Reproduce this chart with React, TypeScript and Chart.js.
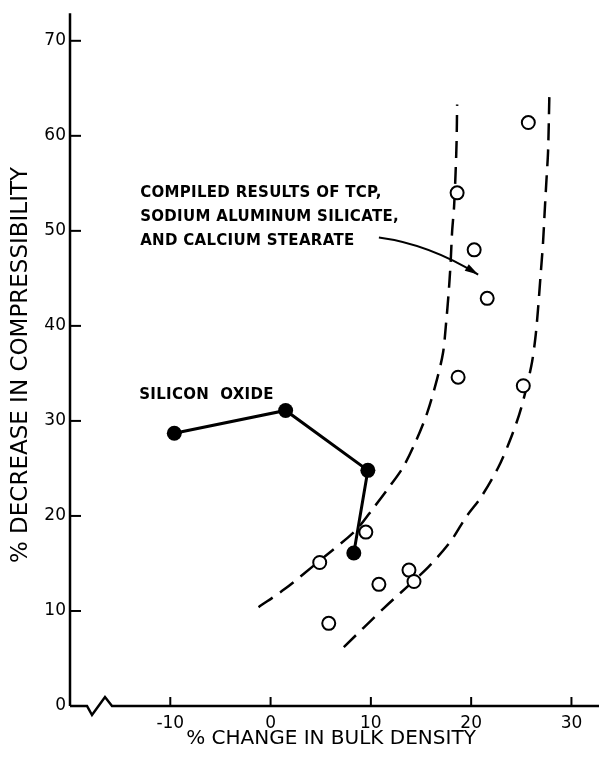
import React, { useEffect, useRef } from "react";
import { Chart, registerables } from "chart.js";

Chart.register(...registerables);

// Silicon oxide (filled, connected)
const siliconX = [-9.6, 1.5, 9.7, 8.3];
const siliconY = [28.7, 31.1, 24.8, 16.1];

// Compiled results of TCP, sodium aluminum silicate, calcium stearate (open circles)
const compiledX = [9.5, 4.9, 10.8, 13.8, 14.3, 5.8, 25.7, 18.6, 20.3, 21.6, 18.7, 25.2];
const compiledY = [18.3, 15.1, 12.8, 14.3, 13.1, 8.7, 61.4, 54.0, 48.0, 42.9, 34.6, 33.7];

// Dashed envelope curves
const leftCurveX = [-1.2, 1.4, 4.9, 8.5, 10.3, 11.8, 13.2, 14.5, 15.6, 16.6, 17.2, 17.5, 17.75, 17.95, 18.1, 18.3, 18.45, 18.55, 18.6];
const leftCurveY = [10.4, 12.3, 15.3, 18.5, 20.9, 23.0, 25.1, 27.9, 30.8, 34.4, 37.2, 40.3, 43.4, 46.6, 49.9, 52.6, 56.2, 59.5, 63.3];
const rightCurveX = [7.3, 11.3, 15.7, 18.0, 19.5, 21.0, 22.7, 24.0, 25.0, 26.0, 26.4, 26.67, 26.9, 27.17, 27.33, 27.5, 27.67, 27.8];
const rightCurveY = [6.2, 10.3, 14.6, 17.4, 19.9, 22.0, 25.1, 28.3, 31.4, 35.8, 38.7, 41.8, 45.0, 48.8, 52.0, 55.2, 58.4, 64.3];

const xTicks = [-10, 0, 10, 20, 30];
const yTicks = [0, 10, 20, 30, 40, 50, 60, 70];

const xTitle = "% CHANGE IN BULK DENSITY";
const yTitle = "% DECREASE IN COMPRESSIBILITY";
const noteLines = ["COMPILED RESULTS OF TCP,", "SODIUM ALUMINUM SILICATE,", "AND CALCIUM STEARATE"];
const siliconLabel = "SILICON  OXIDE";

const pts = (xs: number[], ys: number[]) => xs.map((x, i) => ({ x, y: ys[i] }));

const FONT = "'DejaVu Sans', 'Liberation Sans', sans-serif";

const decorPlugin = {
  id: "decor",
  afterDraw(chart: any) {
    const { ctx, chartArea, scales } = chart;
    const xs = scales.x;
    const ys = scales.y;
    const left = chartArea.left;
    const bottom = chartArea.bottom;
    ctx.save();
    ctx.strokeStyle = "#000";
    ctx.fillStyle = "#000";
    ctx.lineWidth = 2.5;
    ctx.lineCap = "butt";
    // y axis
    ctx.beginPath();
    ctx.moveTo(left, bottom);
    ctx.lineTo(left, chartArea.top - 1);
    ctx.stroke();
    // x axis with break
    ctx.beginPath();
    ctx.moveTo(left, bottom);
    ctx.lineTo(left + 17, bottom);
    ctx.lineTo(left + 22, bottom + 9);
    ctx.lineTo(left + 35, bottom - 9);
    ctx.lineTo(left + 42, bottom);
    ctx.lineTo(chart.width, bottom);
    ctx.stroke();
    // inward ticks
    ctx.lineWidth = 2;
    yTicks.forEach((v) => {
      if (v === 0) return;
      const py = ys.getPixelForValue(v);
      ctx.beginPath();
      ctx.moveTo(left, py);
      ctx.lineTo(left + 11, py);
      ctx.stroke();
    });
    xTicks.forEach((v) => {
      const px = xs.getPixelForValue(v);
      ctx.beginPath();
      ctx.moveTo(px, bottom);
      ctx.lineTo(px, bottom - 9);
      ctx.stroke();
    });
    // axis titles
    ctx.font = `20px ${FONT}`;
    ctx.textAlign = "center";
    ctx.textBaseline = "middle";
    ctx.fillText(xTitle, 331, 739);
    ctx.save();
    ctx.translate(21, 365);
    ctx.rotate(-Math.PI / 2);
    ctx.font = `23px ${FONT}`;
    ctx.fillText(yTitle, 0, 0);
    ctx.restore();
    // annotations
    ctx.font = `bold 15px ${FONT}`;
    ctx.textAlign = "left";
    try { (ctx as any).letterSpacing = "0.3px"; } catch (e) {}
    const nx = xs.getPixelForValue(-13);
    const ny = ys.getPixelForValue(54.0);
    noteLines.forEach((t, i) => ctx.fillText(t, nx, ny + i * 24));
    ctx.fillText(siliconLabel, xs.getPixelForValue(-13.1), ys.getPixelForValue(32.7));
    try { (ctx as any).letterSpacing = "0px"; } catch (e) {}
    // arrow
    const ax0 = xs.getPixelForValue(10.8), ay0 = ys.getPixelForValue(49.3);
    const acx = xs.getPixelForValue(15.8), acy = ys.getPixelForValue(48.6);
    const ax1 = xs.getPixelForValue(20.7), ay1 = ys.getPixelForValue(45.4);
    ctx.lineWidth = 2;
    ctx.beginPath();
    ctx.moveTo(ax0, ay0);
    ctx.quadraticCurveTo(acx, acy, ax1, ay1);
    ctx.stroke();
    const ang = Math.atan2(ay1 - acy, ax1 - acx);
    ctx.beginPath();
    ctx.moveTo(ax1, ay1);
    ctx.lineTo(ax1 - 14 * Math.cos(ang - 0.28), ay1 - 14 * Math.sin(ang - 0.28));
    ctx.lineTo(ax1 - 14 * Math.cos(ang + 0.28), ay1 - 14 * Math.sin(ang + 0.28));
    ctx.closePath();
    ctx.fill();
    ctx.restore();
  },
};

export default function App() {
  const ref = useRef<HTMLCanvasElement | null>(null);
  useEffect(() => {
    if (!ref.current) return;
    const chart = new Chart(ref.current, {
      type: "scatter",
      data: {
        datasets: [
          {
            label: "Compiled",
            data: pts(compiledX, compiledY),
            showLine: false,
            pointRadius: 6.5,
            pointBorderWidth: 2,
            pointBackgroundColor: "#fff",
            pointBorderColor: "#000",
          },
          {
            label: "Silicon oxide",
            data: pts(siliconX, siliconY),
            showLine: true,
            borderColor: "#000",
            borderWidth: 3,
            pointRadius: 7.5,
            pointBackgroundColor: "#000",
            pointBorderColor: "#000",
            pointBorderWidth: 0,
          },
          {
            label: "Left curve",
            data: pts(leftCurveX, leftCurveY),
            showLine: true,
            borderColor: "#000",
            borderWidth: 2.5,
            borderDash: [17, 9],
            pointRadius: 0,
            tension: 0.3,
          },
          {
            label: "Right curve",
            data: pts(rightCurveX, rightCurveY),
            showLine: true,
            borderColor: "#000",
            borderWidth: 2.5,
            borderDash: [17, 9],
            pointRadius: 0,
            tension: 0.3,
          },
        ],
      },
      options: {
        animation: false,
        responsive: false,
        devicePixelRatio: 1,
        layout: { padding: { top: 13, left: 0, right: 0, bottom: 0 } },
        plugins: { legend: { display: false }, tooltip: { enabled: false } },
        scales: {
          x: {
            type: "linear",
            min: -20,
            max: 31.9,
            grid: { display: false, drawTicks: false },
            border: { display: false },
            ticks: {
              padding: 7,
              color: "#000",
              font: { family: FONT, size: 17 },
              includeBounds: false,
            },
            afterBuildTicks: (s: any) => {
              s.ticks = xTicks.map((v) => ({ value: v }));
            },
            afterFit: (s: any) => {
              s.height = 54;
            },
          },
          y: {
            type: "linear",
            min: 0,
            max: 72.8,
            grid: { display: false, drawTicks: false },
            border: { display: false },
            ticks: {
              padding: 4,
              color: "#000",
              font: { family: FONT, size: 17 },
              includeBounds: false,
            },
            afterBuildTicks: (s: any) => {
              s.ticks = yTicks.map((v) => ({ value: v }));
            },
            afterFit: (s: any) => {
              s.width = 70;
            },
          },
        },
      },
      plugins: [decorPlugin],
    });
    return () => chart.destroy();
  }, []);
  return (
    <div style={{ position: "absolute", left: 0, top: 0, width: 599, height: 760, background: "#fff" }}>
      <canvas ref={ref} width={599} height={760} />
    </div>
  );
}
